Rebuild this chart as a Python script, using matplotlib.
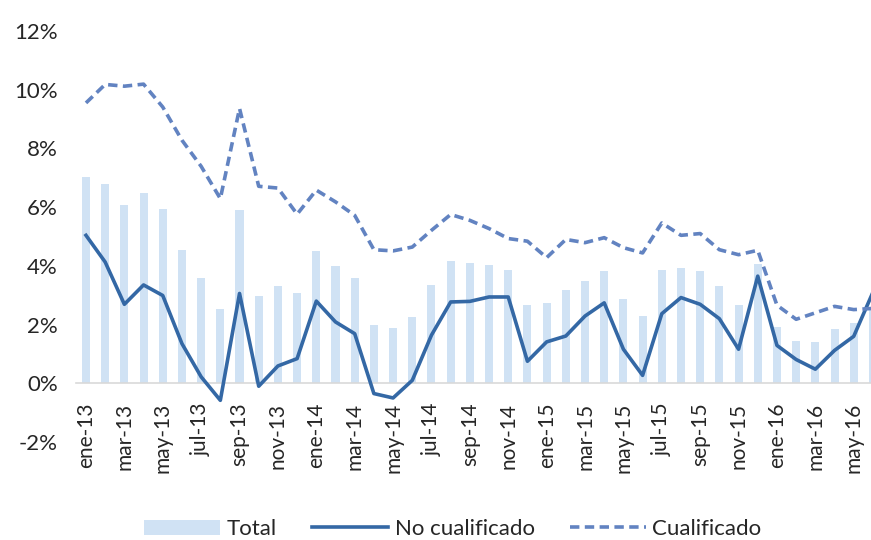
import numpy as np
import matplotlib
matplotlib.use("Agg")
import matplotlib.pyplot as plt
from matplotlib.ticker import FuncFormatter

plt.rcParams["font.family"] = ["Lato", "DejaVu Sans"]

# monthly series, ene-13 .. jun-16 (%)
meses = ["ene", "feb", "mar", "abr", "may", "jun", "jul", "ago", "sep", "oct", "nov", "dic"]
labels = [f"{m}-{y}" for y in ["13", "14", "15", "16"] for m in meses][:42]

total = [7.03, 6.80, 6.06, 6.48, 5.92, 4.53, 3.60, 2.52, 5.89, 2.99, 3.33, 3.07,
         4.50, 3.99, 3.57, 1.98, 1.89, 2.26, 3.34, 4.17, 4.10, 4.02, 3.85, 2.66,
         2.73, 3.17, 3.48, 3.82, 2.86, 2.28, 3.85, 3.92, 3.82, 3.30, 2.66, 4.08,
         1.93, 1.44, 1.40, 1.86, 2.06, 2.50]
no_cualificado = [5.04, 4.13, 2.69, 3.35, 2.99, 1.35, 0.22, -0.58, 3.06, -0.10, 0.59, 0.84,
                  2.80, 2.09, 1.69, -0.35, -0.50, 0.10, 1.64, 2.77, 2.79, 2.94, 2.94, 0.75,
                  1.41, 1.61, 2.29, 2.74, 1.16, 0.27, 2.37, 2.92, 2.69, 2.20, 1.16, 3.65,
                  1.29, 0.81, 0.48, 1.12, 1.60, 3.10]
cualificado = [9.55, 10.18, 10.12, 10.19, 9.41, 8.28, 7.39, 6.29, 9.36, 6.71, 6.65, 5.76,
               6.58, 6.18, 5.72, 4.55, 4.51, 4.64, 5.21, 5.75, 5.55, 5.27, 4.93, 4.84,
               4.28, 4.90, 4.79, 4.96, 4.62, 4.44, 5.46, 5.04, 5.10, 4.55, 4.38, 4.53,
               2.66, 2.18, 2.40, 2.62, 2.51, 2.55]

x = np.arange(len(labels))

fig = plt.figure(figsize=(8.71, 5.40), dpi=100)
ax = fig.add_axes([76 / 871, 1 - 442 / 540, 1 - 76 / 871, (442 - 31) / 540])

# axis line sits at 0% (do this before tick styling, it resets ticks)
for s in ["top", "right", "left"]:
    ax.spines[s].set_visible(False)
ax.spines["bottom"].set_position(("data", 0))
ax.spines["bottom"].set_color("#D9D9D9")
ax.spines["bottom"].set_linewidth(1.2)
ax.spines["bottom"].set_zorder(2)

b = ax.bar(x, total, width=0.42, color="#D0E2F4", label="Total", zorder=1)
l1, = ax.plot(x, no_cualificado, color="#3468A5", lw=2.6, label="No cualificado", zorder=3)
l2, = ax.plot(x, cualificado, color="#6283C1", lw=2.6, ls=(0, (2.6, 1.5)), label="Cualificado", zorder=3)

ax.set_xlim(-0.52, 40.9)
ax.set_ylim(-2, 12)
ax.set_yticks(np.arange(-2, 13, 2))
ax.yaxis.set_major_formatter(FuncFormatter(lambda v, p: f"{v:.0f}%"))

ax.set_xticks(x[::2])
ax.set_xticklabels(labels[::2], rotation=90, va="top", ha="center")

ax.tick_params(axis="y", length=0, pad=13, labelsize=16, labelcolor="#262626")
ax.tick_params(axis="x", length=0, pad=14, labelsize=15, labelcolor="#262626")

fig.legend([b, l1, l2], ["Total", "No cualificado", "Cualificado"],
           loc="center", bbox_to_anchor=(0.52, 0.02), ncol=3, frameon=False,
           fontsize=16, handlelength=3.4, handletextpad=0.3, columnspacing=1.6,
           labelcolor="#262626")

fig.savefig("out.png", dpi=100)
